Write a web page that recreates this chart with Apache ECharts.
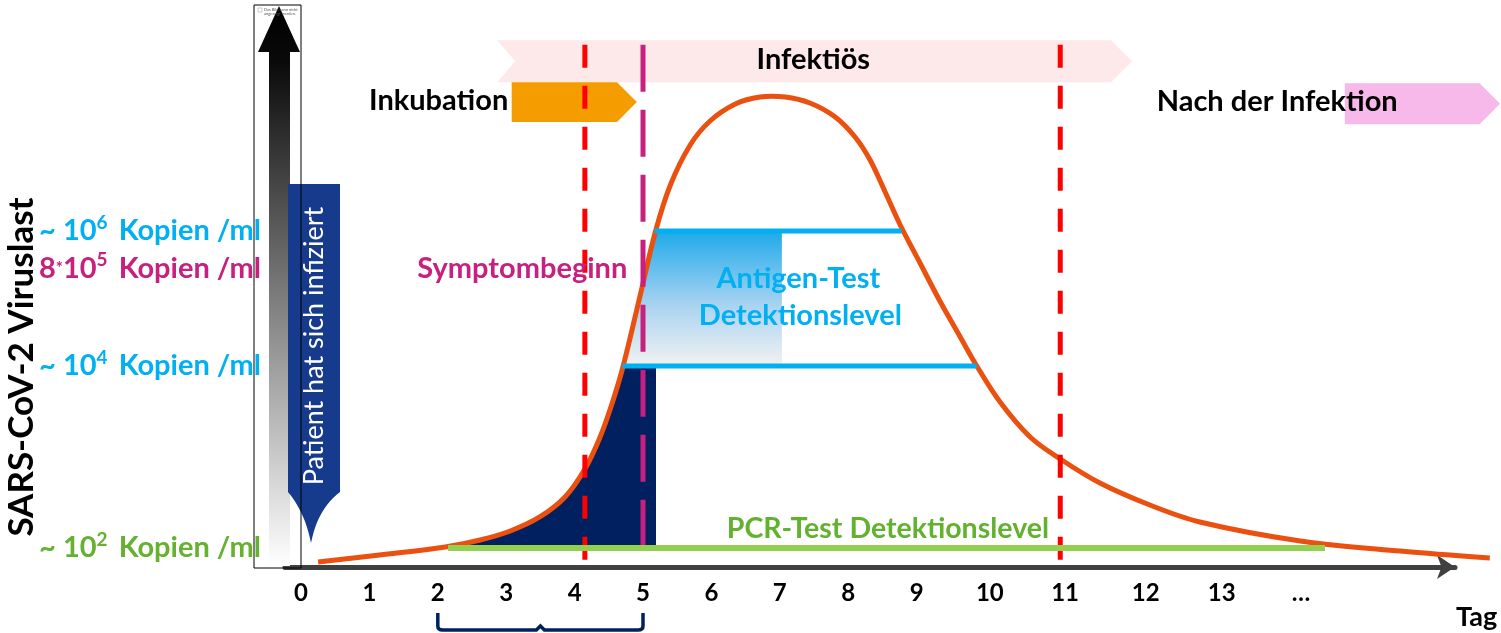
<!DOCTYPE html>
<html><head><meta charset="utf-8">
<script src="https://cdn.jsdelivr.net/npm/echarts@6/dist/echarts.min.js"></script>
<style>html,body{margin:0;padding:0;background:#fff}#c{width:1501px;height:633px}</style>
</head><body><div id="c"></div>
<script>
// ---------- data ----------
const dayTickPositions = [0,1,2,3,4,5,6,7,8,9,10.07,11.17,12.35,13.46,14.62];
const dayTickLabels = ['0','1','2','3','4','5','6','7','8','9','10','11','12','13','…'];

const viralLoadCurve = [[0.25,0.88],[1.15,2.12],[2.11,3.53],[2.62,4.76],[3.06,6.35],[3.49,8.82],[3.86,12.35],[4.15,17.28],[4.37,22.84],[4.55,28.92],[4.71,35.45],[4.96,47.97],[5.18,59.08],[5.40,67.37],[5.69,74.43],[5.98,78.66],[6.35,81.66],[6.71,82.89],[7.08,82.89],[7.44,81.83],[7.81,79.37],[8.10,75.84],[8.32,71.78],[8.54,66.14],[8.76,60.32],[9.05,53.62],[9.34,46.91],[9.63,40.74],[9.88,35.45],[10.22,29.10],[10.66,22.93],[11.10,19.05],[11.68,14.81],[12.41,10.93],[13.14,7.94],[14.61,4.59],[16.07,2.82],[17.38,1.59]];

const navyArea = [[2.11,3.53],[2.62,4.76],[3.06,6.35],[3.49,8.82],[3.86,12.35],[4.15,17.28],[4.37,22.84],[4.55,28.92],[4.71,35.45],[5.19,35.45],[5.19,3.35],[2.11,3.35]];
const antigenBox = [[5.18,59.26],[7.03,59.26],[7.03,35.45],[4.71,35.45],[4.96,47.97]];
const antigenUpper = [[5.17,59.26],[8.78,59.26]];
const antigenLower = [[4.70,35.45],[9.88,35.45]];
const pcrLine = [[2.15,3.35],[14.97,3.35]];

const redDashedDays = [4.15, 11.10];
const symptomDay = 5.0;
const dashTop = 92.1;

const phaseNames  = ['Infektiös','Inkubation','Nach der Infektion'];
const phaseStart  = [2.87, 3.08, 15.26];
const phaseEnd    = [12.15, 4.91, 17.53];
const phaseTop    = [92.9, 85.5, 85.3];
const phaseBottom = [85.5, 78.5, 78.1];

const yLevelValues = [3.35, 35.45, 52.7, 59.26];
const yLevelBase   = ['~ 10', '~ 10', '8*10', '~ 10'];
const yLevelExp    = ['2', '4', '5', '6'];
const yLevelUnit   = ' Kopien /ml';

const noteTexts = ['Infektiös','Inkubation','Nach der Infektion','Symptombeginn','Antigen-Test','Detektionslevel','PCR-Test Detektionslevel'];
const noteX = [7.49, 3.03, 12.51, 4.77, 7.27, 7.30, 8.58];
const noteY = [89.4, 82.2, 82.0, 52.7, 50.9, 44.3, 6.7];

// ---------- styles ----------
const FONT = 'Lato, "Open Sans", sans-serif';
const C_ORANGE = '#ea500f', C_NAVY = '#002060', C_CYAN = '#00b0f0', C_GREEN = '#92d050',
      C_GREEN_T = '#62b22f', C_MAG = '#c8207f', C_RED = '#ff0000';
const phaseColors = ['#fde8ea', '#f59c00', '#f7b8ea'];
const phaseNotch = [true, false, false];
const levelStyle = ['g', 'c', 'm', 'c'];
const noteColor = ['#000','#000','#000', C_MAG, C_CYAN, C_CYAN, C_GREEN_T];
const noteAlign = ['center','right','left','right','center','center','center'];
const noteSize = [29, 29, 29, 29, 29, 29, 28.5];

function polySeries(points, style, z) {
  return {
    type: 'custom', z: z, clip: false, silent: true, data: [0],
    renderItem: (params, api) => ({
      type: 'polygon',
      shape: { points: points.map(p => api.coord(p)) },
      style: style
    })
  };
}
function lineSeries(data, color, width, z, dash) {
  return {
    type: 'line', data: data, z: z, symbol: 'none', silent: true, clip: false,
    lineStyle: { color: color, width: width, type: dash || 'solid', cap: 'butt' }
  };
}

const richBase = {};
[['g', '#66b032'], ['c', C_CYAN], ['m', C_MAG]].forEach(([k, col]) => {
  richBase[k] = { color: col, fontSize: 29, fontWeight: 'bold', fontFamily: FONT, lineHeight: 36, verticalAlign: 'middle' };
  richBase[k + 's'] = { color: col, fontSize: 19, fontWeight: 'bold', fontFamily: FONT, lineHeight: 34, verticalAlign: 'top', padding: [0, 4, 0, 0] };
  richBase[k + 'x'] = { color: col, fontSize: 17, fontWeight: 'bold', fontFamily: FONT, lineHeight: 36, verticalAlign: 'middle' };
});

// banner outline (decoration)
function bez(p0, p1, p2, p3, n) {
  const out = [];
  for (let i = 1; i <= n; i++) {
    const t = i / n, u = 1 - t;
    out.push([u*u*u*p0[0] + 3*u*u*t*p1[0] + 3*u*t*t*p2[0] + t*t*t*p3[0],
              u*u*u*p0[1] + 3*u*u*t*p1[1] + 3*u*t*t*p2[1] + t*t*t*p3[1]]);
  }
  return out;
}
const bannerPts = [[288,184],[340,184],[340,492]]
  .concat(bez([340,492],[326,503],[316,518],[311,543],12))
  .concat(bez([311,543],[306,518],[297,503],[288,492],12));

const series = [];
// phases
series.push({
  type: 'custom', z: 1, clip: false, silent: true,
  data: phaseNames.map((n, i) => [phaseStart[i], phaseEnd[i], phaseTop[i], phaseBottom[i]]),
  renderItem(params, api) {
    const i = params.dataIndex;
    const a = api.coord([api.value(0), api.value(2)]);
    const b = api.coord([api.value(1), api.value(3)]);
    const x0 = a[0], x1 = b[0], y0 = a[1], y1 = b[1];
    const d = (y1 - y0) / 2, ym = (y0 + y1) / 2;
    const pts = [[x0, y0], [x1 - d, y0], [x1, ym], [x1 - d, y1], [x0, y1]];
    if (phaseNotch[i]) pts.push([x0 + d * 0.85, ym]);
    return { type: 'polygon', shape: { points: pts }, style: { fill: phaseColors[i] } };
  }
});
// antigen gradient box
series.push(polySeries(antigenBox, {
  fill: new echarts.graphic.LinearGradient(0, 0, 0, 1, [
    { offset: 0, color: '#1eaaea' }, { offset: 0.55, color: '#a9d3f1' }, { offset: 1, color: '#f2f2f2' }])
}, 2));
// navy area under curve
series.push(polySeries(navyArea, { fill: C_NAVY }, 3));
// viral load curve (custom polyline so it may run past the axis arrow)
series.push({
  type: 'custom', z: 4, clip: false, silent: true, data: [0],
  renderItem: (params, api) => ({
    type: 'polyline',
    shape: { points: viralLoadCurve.map(p => api.coord(p)), smooth: 0.35 },
    style: { stroke: C_ORANGE, lineWidth: 5, fill: null, lineJoin: 'round' }
  })
});
// antigen detection lines
series.push(lineSeries(antigenUpper, C_CYAN, 5, 5));
series.push(lineSeries(antigenLower, C_CYAN, 5, 5));
// dashed lines
redDashedDays.forEach(d => series.push(lineSeries([[d, dashTop], [d, 0]], C_RED, 5, 6, [23, 18])));
series.push(lineSeries([[symptomDay, dashTop], [symptomDay, 0.5]], C_MAG, 5, 6, [47, 18]));
// PCR line
series.push(lineSeries(pcrLine, C_GREEN, 6, 7));
// text annotations
series.push({
  type: 'custom', z: 10, clip: false, silent: true,
  data: noteTexts.map((t, i) => [noteX[i], noteY[i]]),
  renderItem(params, api) {
    const i = params.dataIndex;
    const p = api.coord([api.value(0), api.value(1)]);
    return { type: 'text', x: p[0], y: p[1], style: {
      text: noteTexts[i], fill: noteColor[i], fontSize: noteSize[i], fontWeight: 'bold',
      fontFamily: FONT, align: noteAlign[i], verticalAlign: 'middle' } };
  }
});
// bracket under axis (days 2..5)
series.push({
  type: 'custom', z: 10, clip: false, silent: true, data: [[2, 5]],
  renderItem(params, api) {
    const a = api.coord([api.value(0), 0]);
    const b = api.coord([api.value(1), 0]);
    const y0 = a[1] + 46, y1 = a[1] + 63, xm = (a[0] + b[0]) / 2;
    return { type: 'path', shape: { pathData:
      `M${a[0]},${y0} L${a[0]},${y1 - 4} Q${a[0]},${y1} ${a[0] + 5},${y1} L${xm - 4},${y1} L${xm},${y1 - 4} L${xm + 4},${y1} L${b[0] - 5},${y1} Q${b[0]},${y1} ${b[0]},${y1 - 4} L${b[0]},${y0}` },
      style: { stroke: C_NAVY, lineWidth: 3.5, fill: null } };
  }
});

const option = {
  animation: false,
  grid: { left: 285, right: 46, top: 0, bottom: 66, containLabel: false },
  xAxis: {
    type: 'value', min: -0.234, max: 16.871,
    name: 'Tag', nameLocation: 'end', nameGap: 1,
    nameTextStyle: { color: '#000', fontSize: 27, fontWeight: 'bold', fontFamily: FONT, align: 'left', verticalAlign: 'top', padding: [37, 0, 0, 0] },
    axisLine: { show: true, symbol: ['none', 'arrow'], symbolSize: [18, 18], lineStyle: { color: '#404040', width: 5 } },
    axisTick: { show: false },
    splitLine: { show: false },
    axisLabel: {
      customValues: dayTickPositions, margin: 14, color: '#000', fontSize: 24, fontWeight: 'bold', fontFamily: FONT,
      formatter: v => { const i = dayTickPositions.findIndex(p => Math.abs(p - v) < 1e-6); return i >= 0 ? dayTickLabels[i] : ''; }
    }
  },
  yAxis: {
    type: 'value', min: 0, max: 100,
    axisLine: { show: false }, axisTick: { show: false }, splitLine: { show: false },
    axisLabel: {
      customValues: yLevelValues, margin: 24, rich: richBase,
      formatter: v => {
        const i = yLevelValues.findIndex(p => Math.abs(p - v) < 1e-6);
        if (i < 0) return '';
        const s = levelStyle[i];
        const base = yLevelBase[i].split('*');
        const baseTxt = base.length > 1 ? `{${s}|${base[0]}}{${s}x|*}{${s}|${base[1]}}` : `{${s}|${base[0]}}`;
        return `${baseTxt}{${s}s|${yLevelExp[i]}}{${s}|${yLevelUnit}}`;
      }
    }
  },
  graphic: [
    { type: 'rect', z: 0, shape: { x: 254, y: 5, width: 47, height: 563 }, style: { fill: '#fff' } },
    { type: 'polygon', z: 1, shape: { points: [[279, 6], [300, 52], [290, 52], [290, 566], [269, 566], [269, 52], [258, 52]] },
      style: { fill: new echarts.graphic.LinearGradient(0, 0, 0, 1, [
        { offset: 0, color: '#000' }, { offset: 0.1, color: '#0a0a0a' }, { offset: 1, color: '#ffffff' }]) } },
    { type: 'rect', z: 1, shape: { x: 258, y: 8, width: 4, height: 4 }, style: { fill: '#fff', stroke: '#999', lineWidth: 0.5 } },
    { type: 'text', z: 1, x: 264, y: 8, style: { text: 'Das Bild kann nicht\nangezeigt werden.', fontSize: 4, fill: '#555', fontFamily: FONT } },
    { type: 'polygon', z: 2, shape: { points: bannerPts }, style: { fill: '#163a8c' } },
    { type: 'text', z: 3, x: 314, y: 346, rotation: Math.PI / 2,
      style: { text: 'Patient hat sich infiziert', fill: '#fff', fontSize: 27, fontFamily: FONT, align: 'center', verticalAlign: 'middle' } },
    { type: 'rect', z: 4, shape: { x: 254, y: 5, width: 47, height: 563 }, style: { fill: null, stroke: '#000', lineWidth: 1 } },
    { type: 'text', z: 0, x: 22, y: 367, rotation: Math.PI / 2,
      style: { text: 'SARS-CoV-2 Viruslast', fill: '#000', fontSize: 35, fontWeight: 'bold', fontFamily: FONT, align: 'center', verticalAlign: 'middle' } }
  ],
  series: series
};

echarts.init(document.getElementById('c'), null, { renderer: 'canvas' }).setOption(option);
</script></body></html>
